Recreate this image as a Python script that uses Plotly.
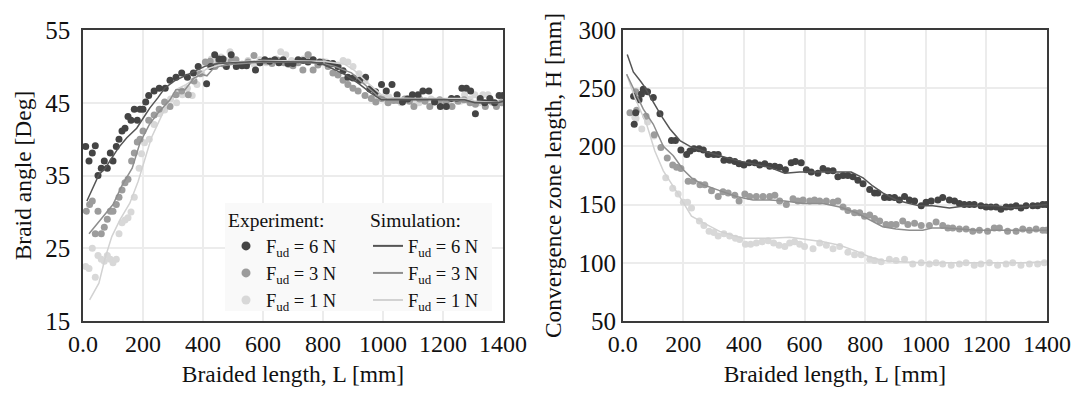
import plotly.graph_objects as go

# ---------------- Left panel: braid angle ----------------
L_exp6_a = [9,20,31,41,50,61,71,81,91,100,111,120,130,140,150,160,171,181,190,200,209,219,237,254,274,290,310,329,348,368,384,412,426,439,453,467,478,494,511,530,545,575,590,606,622,639,653,667,683,700,717,734,750,767,789,817,833,850,867,883,900,922,942,956,975,995,1011,1030,1047,1065,1082,1098,1117,1133,1153,1172,1191,1211,1228,1247,1263,1278,1292,1308,1324,1339,1356,1372,1387,1400]
A_exp6 = [39.0,37.0,38.1,39.1,35.0,36.0,37.0,36.0,38.1,37.0,39.0,40.0,41.1,41.5,43.1,42.6,44.1,42.6,44.1,44.1,45.1,46.0,46.6,47.0,47.0,48.1,48.5,49.1,48.5,49.1,50.0,47.6,50.0,51.6,51.0,51.0,50.0,51.6,50.0,50.1,50.1,49.5,50.5,50.9,50.7,50.9,50.5,50.9,50.4,50.4,50.9,50.8,50.6,50.9,50.6,50.4,50.4,50.0,49.4,48.5,48.4,48.1,48.5,46.9,46.5,47.5,46.6,47.5,46.1,45.1,45.5,46.1,46.1,46.6,46.6,45.1,44.5,44.5,45.6,45.6,47.0,47.0,46.6,43.5,45.6,45.0,45.6,45.0,46.0,46.0]

L_exp3_a = [11,22,31,41,50,61,71,81,91,100,111,120,130,140,150,162,171,181,190,200,219,237,254,272,290,310,329,351,370,390,408,424,440,453,470,494,510,530,550,570,590,611,630,650,670,685,700,717,733,750,767,783,800,817,833,850,867,883,900,917,940,961,976,995,1017,1035,1050,1072,1088,1103,1122,1140,1156,1172,1189,1210,1230,1250,1270,1290,1308,1324,1341,1360,1378,1395]
A_exp3 = [30.1,31.0,31.5,27.0,30.1,27.0,27.9,29.0,30.1,30.1,31.0,32.0,33.0,34.0,34.5,37.0,38.1,39.6,40.0,41.1,42.6,43.3,44.1,45.1,44.5,46.1,46.6,46.1,48.0,49.0,50.6,50.7,50.0,50.7,50.3,50.7,50.9,50.3,50.6,51.5,50.5,50.7,50.4,50.8,50.5,50.3,50.1,50.5,49.5,51.6,49.5,50.2,50.6,50.0,49.1,48.8,48.1,47.5,47.0,46.6,46.0,45.6,45.1,45.6,45.0,45.3,45.3,45.5,45.2,44.5,45.5,45.2,44.5,45.2,45.4,45.0,44.5,45.2,45.4,45.0,44.8,45.3,44.5,45.2,44.5,45.0]

L_exp1_a = [9,20,31,41,50,61,71,81,91,100,111,120,130,140,150,160,171,187,195,205,221,237,254,272,292,312,331,348,364,380,396,412,428,445,460,475,490,510,530,550,570,590,610,630,645,659,676,695,715,735,752,770,790,810,830,850,867,883,900,920,940,959,980,1000,1020,1040,1060,1080,1100,1120,1140,1160,1180,1200,1220,1240,1258,1272,1290,1306,1320,1333,1350,1365,1378,1395]
A_exp1 = [22.5,22.2,25.0,21.0,24.0,23.5,23.2,24.0,23.5,23.0,23.5,27.0,28.5,28.9,29.2,30.0,32.0,36.0,38.0,39.5,40.0,42.0,43.5,44.0,45.5,45.0,46.1,47.0,46.0,47.5,49.0,50.5,51.0,50.5,51.3,50.8,52.0,50.5,50.2,50.8,50.3,50.9,50.5,50.8,51.0,52.0,51.6,50.8,50.6,51.0,51.6,50.8,50.5,50.6,50.2,50.2,50.8,50.6,50.0,49.0,48.0,46.8,46.0,45.5,45.8,45.3,45.0,45.6,45.4,45.0,45.3,45.5,45.2,45.0,45.3,45.5,45.2,46.1,45.5,46.1,45.0,46.1,46.1,45.0,44.9,45.5]

L_sim6_a = [13,33,53,74,96,118,146,179,201,223,250,272,305,339,372,406,450,500,600,700,760,795,828,872,917,961,995,1039,1100,1195,1272,1306,1384,1400]
A_sim6 = [31.5,33.3,35.1,36.0,37.4,38.8,40.2,41.5,42.9,44.3,45.7,47.0,48.0,48.7,49.4,50.0,50.4,50.5,50.7,50.6,50.6,50.4,49.8,48.9,47.7,46.3,45.4,45.4,45.5,45.4,45.4,45.0,45.0,45.2]

L_sim3_a = [20,44,71,100,131,164,190,221,250,290,310,340,370,395,413,432,455,500,600,700,800,839,895,939,983,1017,1100,1200,1283,1400]
A_sim3 = [27.0,28.2,29.4,31.0,33.7,36.0,39.5,42.0,43.6,45.4,46.8,46.8,48.4,48.9,48.7,49.6,50.0,50.3,50.6,50.6,50.4,50.0,49.1,47.5,45.9,45.5,45.5,45.5,45.1,45.0]

L_sim1_a = [22,53,74,96,123,156,184,206,228,254,283,310,343,376,410,454,500,600,700,800,872,906,950,995,1028,1100,1200,1272,1306,1400]
A_sim1 = [17.9,20.2,23.7,26.6,28.9,31.2,34.2,37.2,40.2,42.5,45.0,46.8,47.5,48.4,49.6,50.2,50.6,50.8,50.8,50.7,50.3,49.4,47.7,46.1,45.7,45.6,45.6,45.6,45.2,45.0]

# ---------------- Right panel: convergence zone length ----------------
L_exp6_h = [36,38,43,54,62,68,82,101,123,161,174,192,211,222,235,252,266,282,301,315,334,353,370,384,400,417,436,452,469,485,502,518,537,556,570,589,606,622,644,661,677,694,710,727,743,760,776,793,815,831,842,864,880,897,913,930,946,963,985,1001,1018,1040,1056,1078,1095,1111,1127,1144,1160,1182,1199,1215,1232,1248,1265,1281,1298,1314,1331,1353,1369,1386,1398]
H_exp6 = [243,219,229,240,245,249,247,242,228,205,205,197,193,196,198,198,197,193,193,193,188,188,187,185,184,186,186,184,185,183,183,182,180,186,187,186,180,178,177,181,179,179,174,175,175,174,171,168,163,160,160,156,156,156,154,157,154,153,149,152,153,154,156,154,153,151,150,150,150,149,148,148,148,146,148,148,149,147,149,149,149,150,150]

L_exp3_h = [24,43,46,77,104,126,147,165,178,192,216,233,255,271,293,315,331,348,370,384,403,419,441,463,485,502,518,540,562,578,595,617,633,650,672,694,710,727,743,765,782,798,815,831,848,869,886,902,924,941,963,985,1012,1034,1056,1073,1089,1111,1133,1155,1177,1204,1226,1243,1270,1298,1320,1342,1364,1386,1398]
H_exp3 = [229,247,231,226,210,199,190,184,182,181,170,170,167,167,162,157,161,160,158,153,159,157,157,157,157,158,153,150,155,153,154,153,154,153,153,152,153,148,145,143,143,140,141,138,136,133,133,133,136,133,134,132,132,135,132,130,130,129,129,127,128,127,130,130,127,127,129,128,129,128,128]

L_exp1_h = [40,44,63,82,103,142,165,183,200,214,227,253,268,285,301,315,334,353,372,386,405,422,441,460,480,498,516,535,551,567,584,600,628,650,672,694,716,743,765,787,815,831,853,880,902,930,957,985,1012,1034,1056,1084,1111,1133,1160,1182,1210,1237,1265,1287,1314,1342,1369,1391]
H_exp1 = [225,224,215,221,209,173,164,159,152,152,147,136,132,127,126,123,125,123,121,120,116,116,117,118,119,117,115,114,117,118,116,114,112,117,115,112,114,109,107,107,103,102,101,103,102,103,99,100,99,100,99,98,99,100,98,99,100,98,99,100,98,99,99,100]

L_sim6_h = [15,35,59,73,90,106,128,156,189,222,266,320,375,430,485,535,584,650,705,754,793,825,858,902,946,979,1023,1078,1133,1188,1232,1276,1320,1400]
H_sim6 = [279,264,256,251,243,236,226,215,205,200,196,192,188,185,182,177,178,178,178,178,173,166,160,154,151,149,149,147,149,149,149,147,148,150]

L_sim3_h = [13,40,68,101,134,167,200,227,266,320,375,430,485,535,595,661,716,771,815,858,902,946,990,1023,1067,1122,1166,1232,1298,1400]
H_sim3 = [262,247,232,219,200,192,180,173,167,162,157,154,154,153,151,151,148,143,137,131,129,128,128,130,130,129,128,128,128,128]

L_sim1_h = [13,40,60,79,106,134,183,227,276,320,397,485,551,606,661,716,771,815,858,913,990,1100,1210,1320,1400]
H_sim1 = [262,242,230,219,196,179,159,140,133,127,121,121,122,120,118,115,110,105,102,101,100,100,100,100,101]

x_ticks = [0, 200, 400, 600, 800, 1000, 1200, 1400]
x_tick_text = ["0.0", "200", "400", "600", "800", "1000", "1200", "1400"]

labels = ["F<sub>ud</sub> = 6 N", "F<sub>ud</sub> = 3 N", "F<sub>ud</sub> = 1 N"]
exp_colors = ["#444444", "#9c9c9c", "#d8d8d8"]
sim_colors = ["#555555", "#8e8e8e", "#d2d2d2"]

FONT = "Liberation Serif"

fig = go.Figure()

left_exp = [(L_exp6_a, A_exp6), (L_exp3_a, A_exp3), (L_exp1_a, A_exp1)]
left_sim = [(L_sim6_a, A_sim6), (L_sim3_a, A_sim3), (L_sim1_a, A_sim1)]
right_exp = [(L_exp6_h, H_exp6), (L_exp3_h, H_exp3), (L_exp1_h, H_exp1)]
right_sim = [(L_sim6_h, H_sim6), (L_sim3_h, H_sim3), (L_sim1_h, H_sim1)]

# draw lightest first so darker sits on top
for i in [2, 1, 0]:
    fig.add_trace(go.Scatter(x=left_exp[i][0], y=left_exp[i][1], mode="markers",
                             marker=dict(size=7, color=exp_colors[i]),
                             showlegend=False, xaxis="x", yaxis="y"))
    fig.add_trace(go.Scatter(x=right_exp[i][0], y=right_exp[i][1], mode="markers",
                             marker=dict(size=7, color=exp_colors[i]),
                             showlegend=False, xaxis="x2", yaxis="y2"))
for i in [2, 1, 0]:
    fig.add_trace(go.Scatter(x=left_sim[i][0], y=left_sim[i][1], mode="lines",
                             line=dict(width=1.5, color=sim_colors[i]),
                             showlegend=False, xaxis="x", yaxis="y"))
    fig.add_trace(go.Scatter(x=right_sim[i][0], y=right_sim[i][1], mode="lines",
                             line=dict(width=1.5, color=sim_colors[i]),
                             showlegend=False, xaxis="x2", yaxis="y2"))

# legend entries
for i in range(3):
    fig.add_trace(go.Scatter(x=[None], y=[None], mode="markers", name=labels[i],
                             marker=dict(size=9, color=exp_colors[i]),
                             legend="legend", xaxis="x", yaxis="y"))
for i in range(3):
    fig.add_trace(go.Scatter(x=[None], y=[None], mode="lines", name=labels[i],
                             line=dict(width=2, color=sim_colors[i]),
                             legend="legend2", xaxis="x", yaxis="y"))

axis_common = dict(showline=True, linecolor="#3a3a3a", linewidth=1.5, mirror=True,
                   showgrid=True, gridcolor="#ececec", gridwidth=1.5, zeroline=False,
                   ticks="", automargin=False)

W, H = 1075, 395
ML, MR, MT, MB = 83, 28, 30, 74
PW = W - ML - MR
PH = H - MT - MB

def px2x(px):
    return (px - ML) / PW

def py2y(py):
    return (H - MB - py) / PH

xtickfont = dict(family=FONT, size=24, color="#111111")
ytickfont = dict(family=FONT, size=25, color="#111111")
titlefont = dict(family=FONT, size=23.5, color="#111111")
legfont = dict(family=FONT, size=18.5, color="#111111")

fig.update_layout(
    width=W, height=H,
    margin=dict(l=ML, r=MR, t=MT, b=MB),
    paper_bgcolor="white", plot_bgcolor="white",
    font=dict(family=FONT, color="#111111"),
    xaxis=dict(domain=[0, px2x(503)], range=[0, 1400], tickvals=x_ticks, ticktext=x_tick_text,
               tickfont=xtickfont,
               title=dict(text="Braided length, L [mm]", font=titlefont, standoff=10),
               anchor="y", **axis_common),
    yaxis=dict(domain=[0, 1], range=[15, 55], dtick=10, tick0=15, tickfont=ytickfont,
               ticklabelstandoff=6,
               title=dict(text="Braid angle [Deg]", font=titlefont, standoff=7),
               anchor="x", **axis_common),
    xaxis2=dict(domain=[px2x(622.7), 1], range=[0, 1400], tickvals=x_ticks, ticktext=x_tick_text,
                tickfont=xtickfont,
                title=dict(text="Braided length, L [mm]", font=titlefont, standoff=10),
                anchor="y2", **axis_common),
    yaxis2=dict(domain=[0, 1], range=[50, 300], dtick=50, tick0=50, tickfont=ytickfont,
                title=dict(text="Convergence zone length, H [mm]", font=titlefont, standoff=10),
                anchor="x2", **axis_common),
    legend=dict(x=px2x(226), y=py2y(202), xanchor="left", yanchor="top",
                bgcolor="rgba(0,0,0,0)", font=legfont,
                title=dict(text="Experiment:", font=dict(family=FONT, size=19.5)),
                tracegroupgap=0, itemwidth=30),
    legend2=dict(x=px2x(368), y=py2y(202), xanchor="left", yanchor="top",
                 bgcolor="rgba(0,0,0,0)", font=legfont,
                 title=dict(text="Simulation:", font=dict(family=FONT, size=19.5)),
                 tracegroupgap=0, itemwidth=30),
    shapes=[dict(type="rect", xref="paper", yref="paper",
                 x0=px2x(225), x1=px2x(492), y0=py2y(311), y1=py2y(203),
                 fillcolor="#f9f9f9", line=dict(width=0), layer="above")],
)

fig.write_html("out.html")
